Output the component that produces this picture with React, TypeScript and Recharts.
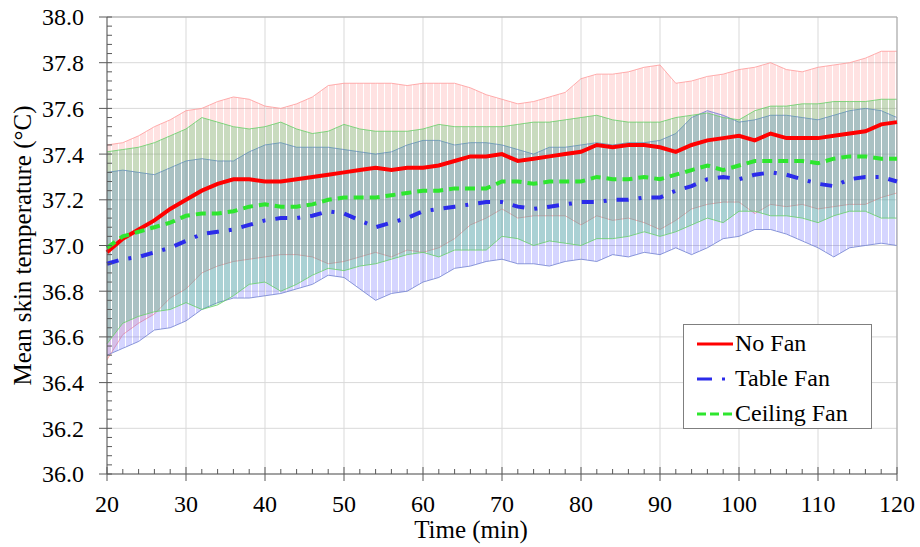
import {
  ComposedChart,
  Area,
  Line,
  XAxis,
  YAxis,
  CartesianGrid,
  Legend,
  ReferenceLine,
} from 'recharts';

// time (min)
const TIME = [
  20, 22, 24, 26, 28, 30, 32, 34, 36, 38, 40, 42, 44, 46, 48, 50, 52, 54, 56, 58,
  60, 62, 64, 66, 68, 70, 72, 74, 76, 78, 80, 82, 84, 86, 88, 90, 92, 94, 96, 98,
  100, 102, 104, 106, 108, 110, 112, 114, 116, 118, 120,
];

// mean skin temperature (°C) and standard deviation
const noFanMean = [
  36.97, 37.03, 37.07, 37.11, 37.16, 37.2, 37.24, 37.27, 37.29, 37.29, 37.28, 37.28, 37.29, 37.3, 37.31, 37.32, 37.33, 37.34, 37.33, 37.34,
  37.34, 37.35, 37.37, 37.39, 37.39, 37.4, 37.37, 37.38, 37.39, 37.4, 37.41, 37.44, 37.43, 37.44, 37.44, 37.43, 37.41, 37.44, 37.46, 37.47,
  37.48, 37.46, 37.49, 37.47, 37.47, 37.47, 37.48, 37.49, 37.5, 37.53, 37.54,
];
const noFanSd = [
  0.47, 0.42, 0.41, 0.41, 0.39, 0.39, 0.36, 0.36, 0.36, 0.35, 0.33, 0.32, 0.33, 0.35, 0.39, 0.39, 0.38, 0.37, 0.38, 0.36,
  0.37, 0.36, 0.34, 0.3, 0.27, 0.24, 0.25, 0.25, 0.26, 0.27, 0.32, 0.31, 0.32, 0.32, 0.34, 0.36, 0.3, 0.28, 0.28, 0.28,
  0.29, 0.32, 0.31, 0.3, 0.29, 0.31, 0.31, 0.31, 0.32, 0.32, 0.31,
];
const tableFanMean = [
  36.92, 36.94, 36.95, 36.97, 36.99, 37.02, 37.05, 37.06, 37.07, 37.09, 37.11, 37.12, 37.12, 37.13, 37.15, 37.14, 37.11, 37.08, 37.1, 37.12,
  37.15, 37.16, 37.17, 37.18, 37.19, 37.19, 37.17, 37.16, 37.17, 37.18, 37.19, 37.19, 37.2, 37.2, 37.21, 37.21, 37.24, 37.26, 37.29, 37.3,
  37.29, 37.31, 37.32, 37.31, 37.29, 37.27, 37.26, 37.29, 37.3, 37.3, 37.28,
];
const tableFanSd = [
  0.4, 0.39, 0.37, 0.34, 0.35, 0.35, 0.33, 0.31, 0.3, 0.32, 0.33, 0.33, 0.31, 0.3, 0.28, 0.28, 0.3, 0.32, 0.31, 0.32,
  0.31, 0.3, 0.27, 0.27, 0.26, 0.25, 0.25, 0.24, 0.26, 0.25, 0.25, 0.26, 0.24, 0.25, 0.24, 0.25, 0.25, 0.3, 0.3, 0.27,
  0.25, 0.24, 0.25, 0.26, 0.27, 0.28, 0.31, 0.3, 0.3, 0.29, 0.28,
];
const ceilingFanMean = [
  36.99, 37.04, 37.06, 37.08, 37.1, 37.13, 37.14, 37.14, 37.15, 37.17, 37.18, 37.17, 37.17, 37.18, 37.2, 37.21, 37.21, 37.21, 37.22, 37.23,
  37.24, 37.24, 37.25, 37.25, 37.25, 37.28, 37.28, 37.27, 37.28, 37.28, 37.28, 37.3, 37.29, 37.29, 37.3, 37.29, 37.31, 37.33, 37.35, 37.33,
  37.35, 37.37, 37.37, 37.37, 37.37, 37.36, 37.38, 37.39, 37.39, 37.38, 37.38,
];
const ceilingFanSd = [
  0.42, 0.38, 0.37, 0.37, 0.38, 0.38, 0.42, 0.4, 0.37, 0.34, 0.34, 0.37, 0.34, 0.31, 0.3, 0.32, 0.3, 0.29, 0.28, 0.27,
  0.27, 0.29, 0.27, 0.27, 0.27, 0.24, 0.25, 0.27, 0.26, 0.27, 0.28, 0.27, 0.26, 0.25, 0.24, 0.25, 0.25, 0.24, 0.23, 0.23,
  0.2, 0.22, 0.24, 0.24, 0.25, 0.26, 0.25, 0.24, 0.24, 0.26, 0.26,
];

const X_TICKS = Array.from({ length: 51 }, (_, i) => 20 + i * 2);
const Y_TICKS = Array.from({ length: 51 }, (_, i) => Math.round((36 + i * 0.04) * 100) / 100);
const X_MAJOR = [20, 30, 40, 50, 60, 70, 80, 90, 100, 110, 120];
const Y_MAJOR = [36, 36.2, 36.4, 36.6, 36.8, 37, 37.2, 37.4, 37.6, 37.8, 38];

const FONT = "'Times New Roman', 'Liberation Serif', Tinos, 'DejaVu Serif', serif";
const AXIS = '#595959';

const SERIES = [
  { name: 'No Fan', color: '#ff0000', dash: undefined, legendDash: undefined },
  { name: 'Table Fan', color: '#2b2bea', dash: '12 10 3 10', legendDash: '15 10 3 8' },
  { name: 'Ceiling Fan', color: '#2ee62e', dash: '10 6', legendDash: '9 4' },
];

const r2 = (v: number) => Math.round(v * 1000) / 1000;

const chartData = TIME.map((t, i) => ({
  t,
  noFan: noFanMean[i],
  tableFan: tableFanMean[i],
  ceilingFan: ceilingFanMean[i],
  noFanBand: [r2(noFanMean[i] - noFanSd[i]), r2(noFanMean[i] + noFanSd[i])],
  tableFanBand: [r2(tableFanMean[i] - tableFanSd[i]), r2(tableFanMean[i] + tableFanSd[i])],
  ceilingFanBand: [r2(ceilingFanMean[i] - ceilingFanSd[i]), r2(ceilingFanMean[i] + ceilingFanSd[i])],
}));

const isMajorY = (v: number) => Math.round(v * 100) % 20 === 0;

// ticks point inward, labels only on the major ones
const YTick = (props: any) => {
  const { x, y, payload } = props;
  const major = isMajorY(payload.value);
  return (
    <g>
      <line x1={major ? x - 8 : x} x2={x + 5} y1={y} y2={y} stroke={AXIS} strokeWidth={1} />
      {major && (
        <text x={x - 23} y={y} dy="0.35em" textAnchor="end" fontSize={24} fontFamily={FONT} fill="#000">
          {payload.value.toFixed(1)}
        </text>
      )}
    </g>
  );
};

const XTick = (props: any) => {
  const { x, y, payload } = props;
  const major = payload.value % 10 === 0;
  return (
    <g>
      <line x1={x} x2={x} y1={y - (major ? 7 : 5)} y2={major ? y + 7 : y} stroke={AXIS} strokeWidth={1} />
      {major && (
        <text x={x} y={y + 38} textAnchor="middle" fontSize={24} fontFamily={FONT} fill="#000">
          {payload.value}
        </text>
      )}
    </g>
  );
};

const YTitle = ({ viewBox }: any) => {
  const cx = viewBox.x + 22;
  const cy = viewBox.y + viewBox.height / 2;
  return (
    <text
      x={cx}
      y={cy}
      transform={`rotate(-90 ${cx} ${cy})`}
      textAnchor="middle"
      dominantBaseline="central"
      fontSize={25}
      fontFamily={FONT}
      fill="#000"
    >
      Mean skin temperature (°C)
    </text>
  );
};

const XTitle = ({ viewBox }: any) => (
  <text
    x={viewBox.x + viewBox.width / 2 - 31}
    y={viewBox.y + 64}
    textAnchor="middle"
    fontSize={25}
    fontFamily={FONT}
    fill="#000"
  >
    Time (min)
  </text>
);

const LegendBox = () => (
  <div
    style={{
      width: 189,
      height: 105,
      boxSizing: 'border-box',
      border: '1px solid #7f7f7f',
      background: '#fff',
      padding: '1px 0 0 13px',
      fontFamily: FONT,
      fontSize: 24,
      color: '#000',
    }}
  >
    {SERIES.map((s) => (
      <div key={s.name} style={{ display: 'flex', alignItems: 'center', height: 35 }}>
        <svg width={38} height={10} style={{ display: 'block', flex: 'none' }}>
          <line x1={0} x2={36} y1={5} y2={5} stroke={s.color} strokeWidth={3} strokeDasharray={s.legendDash} />
        </svg>
        <span style={{ lineHeight: '35px' }}>{s.name}</span>
      </div>
    ))}
  </div>
);

// error-bar look: coloured columns with a thin gap between them
const Stripes = ({ id, color }: { id: string; color: string }) => (
  <pattern id={id} x={0} y={0} width={7} height={10} patternUnits="userSpaceOnUse">
    <rect x={0} y={0} width={6} height={10} fill={color} />
  </pattern>
);

export default function App() {
  return (
    <div style={{ position: 'absolute', left: 0, top: 0, background: '#fff' }}>
      <ComposedChart
        width={920}
        height={547}
        data={chartData}
        margin={{ top: 17, right: 23, left: 0, bottom: 0 }}
      >
        <defs>
          <Stripes id="nfStripe" color="#ff4a4a" />
          <Stripes id="tfStripe" color="#4040ff" />
          <Stripes id="cfStripe" color="#3cc864" />
        </defs>
        <CartesianGrid
          stroke="#d9d9d9"
          strokeWidth={1}
          horizontalValues={Y_MAJOR}
          verticalValues={X_MAJOR}
        />
        <XAxis
          dataKey="t"
          type="number"
          domain={[20, 120]}
          ticks={X_TICKS}
          interval={0}
          height={73}
          tickSize={0}
          tickMargin={0}
          tickLine={false}
          axisLine={{ stroke: AXIS }}
          tick={<XTick />}
          label={{ content: XTitle }}
        />
        <YAxis
          type="number"
          domain={[36, 38]}
          ticks={Y_TICKS}
          interval={0}
          width={107}
          tickSize={0}
          tickMargin={0}
          tickLine={false}
          axisLine={{ stroke: AXIS }}
          tick={<YTick />}
          label={{ content: YTitle }}
        />
        <ReferenceLine y={38} stroke="#a6a6a6" />
        <ReferenceLine x={120} stroke="#a6a6a6" />

        {/* ±SD bands */}
        <Area
          type="linear"
          dataKey="noFanBand"
          stroke="#ff9a9a"
          strokeOpacity={0.8}
          strokeWidth={1}
          fill="url(#nfStripe)"
          fillOpacity={0.16}
          isAnimationActive={false}
          legendType="none"
        />
        <Area
          type="linear"
          dataKey="tableFanBand"
          stroke="#6f7fd0"
          strokeOpacity={0.8}
          strokeWidth={1}
          fill="url(#tfStripe)"
          fillOpacity={0.22}
          isAnimationActive={false}
          legendType="none"
        />
        <Area
          type="linear"
          dataKey="ceilingFanBand"
          stroke="#66d066"
          strokeOpacity={0.8}
          strokeWidth={1}
          fill="url(#cfStripe)"
          fillOpacity={0.28}
          isAnimationActive={false}
          legendType="none"
        />

        {/* mean curves */}
        <Line
          type="linear"
          dataKey="noFan"
          name="No Fan"
          stroke={SERIES[0].color}
          strokeWidth={4}
          dot={false}
          isAnimationActive={false}
        />
        <Line
          type="linear"
          dataKey="tableFan"
          name="Table Fan"
          stroke={SERIES[1].color}
          strokeWidth={4}
          strokeDasharray={SERIES[1].dash}
          dot={false}
          isAnimationActive={false}
        />
        <Line
          type="linear"
          dataKey="ceilingFan"
          name="Ceiling Fan"
          stroke={SERIES[2].color}
          strokeWidth={4}
          strokeDasharray={SERIES[2].dash}
          dot={false}
          isAnimationActive={false}
        />
        <Legend
          layout="horizontal"
          verticalAlign="middle"
          align="center"
          content={<LegendBox />}
          wrapperStyle={{ left: 683, top: 324, width: 189, height: 105 }}
        />
      </ComposedChart>
    </div>
  );
}
